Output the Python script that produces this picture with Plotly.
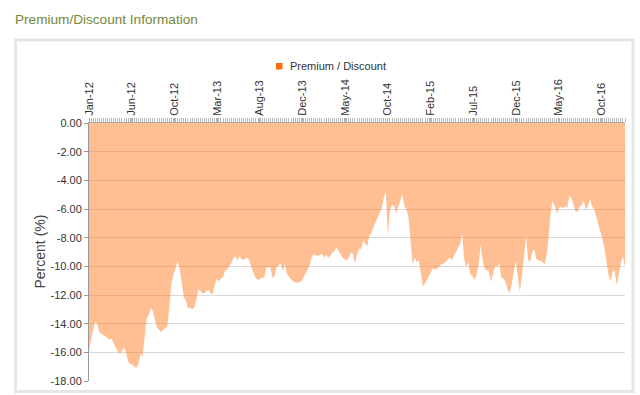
import pandas as pd
import plotly.graph_objects as go

# ---------------- data ----------------
start_date = "2012-01-06"
n_weeks = 261
premium_discount = [
    -15.9, -15.1, -14.4, -13.85, -14.0, -14.6, -14.7, -14.8, -14.95, -15.05,
    -15.1, -15.05, -15.45, -15.7, -15.9, -16.1, -15.9, -15.65, -16.0, -16.65,
    -16.8, -16.85, -17.0, -17.1, -16.8, -16.1, -16.3, -15.1, -13.6, -13.4,
    -12.9, -13.15, -13.75, -14.3, -14.4, -14.6, -14.4, -14.3, -14.2, -12.8,
    -11.15, -10.6, -10.1, -9.65, -10.2, -11.3, -12.15, -12.4, -12.9, -12.9,
    -13.0, -12.9, -12.4, -11.6, -11.7, -11.9, -11.9, -11.7, -11.65, -11.9,
    -11.95, -11.3, -10.85, -11.05, -10.85, -10.75,
    -10.3, -10.2, -10.0, -9.8, -9.45, -9.3, -9.6, -9.25, -9.5, -9.55,
    -9.45, -9.4, -9.7, -10.2, -10.5, -10.85, -10.95, -10.85, -10.8, -10.8,
    -10.1, -10.05, -10.1, -10.8, -10.7, -10.05, -9.9, -9.8, -10.3, -9.85,
    -10.5, -10.75, -10.9, -11.05, -11.1, -11.15, -11.1, -11.05, -10.8, -10.55,
    -10.3, -9.95, -9.35, -9.15, -9.25, -9.25, -9.25, -9.1, -9.4, -9.2,
    -9.4, -9.3, -9.05, -8.95, -8.65, -8.9, -9.2, -9.4, -9.5, -9.6,
    -9.4, -9.05, -9.1, -9.8, -9.2,
    -8.75, -8.8, -8.2, -8.4, -8.6, -7.8, -7.7, -7.25, -6.95, -6.6,
    -6.35, -5.95, -5.2, -4.75, -7.9, -6.1, -5.7, -5.8, -6.3, -5.85,
    -5.45, -4.95, -5.8, -6.05, -6.6, -8.0, -9.9, -9.4, -9.7, -9.6,
    -10.5, -11.4, -11.2, -10.9, -10.6, -10.3, -10.1, -10.25, -10.1, -10.0,
    -9.85, -9.8, -9.7, -9.55, -9.35, -9.6, -9.3, -8.95, -8.7, -8.45,
    -7.7, -9.5, -10.05, -9.7, -10.55, -10.7, -10.95, -10.55, -9.9, -8.5,
    -9.65, -10.2, -10.3, -10.35, -11.1,
    -10.4, -9.95, -10.05, -9.8, -10.8, -10.85, -11.1, -11.6, -11.85, -11.3,
    -10.4, -9.6, -10.7, -11.8, -10.7, -9.1, -7.9, -9.55, -9.7, -9.0,
    -8.8, -9.5, -9.55, -9.65, -9.7, -9.85, -9.2, -7.9, -6.2, -5.4,
    -5.95, -6.3, -5.95, -5.85, -5.95, -5.8, -5.9, -5.1, -5.2, -5.7,
    -6.2, -6.2, -5.85, -5.7, -5.4, -6.05, -5.85, -5.3, -5.8, -6.0,
    -6.5, -7.15, -7.55, -8.05, -8.7, -9.6, -10.6, -11.05, -10.35, -10.35,
    -11.3, -10.55, -9.75, -9.3, -10.0,
]
x_tick_labels = ["Jan-12", "Jun-12", "Oct-12", "Mar-13", "Aug-13", "Dec-13",
                 "May-14", "Oct-14", "Feb-15", "Jul-15", "Dec-15", "May-16", "Oct-16"]
y_tick_values = [0, -2, -4, -6, -8, -10, -12, -14, -16, -18]
y_tick_labels = ["0.00", "-2.00", "-4.00", "-6.00", "-8.00", "-10.00",
                 "-12.00", "-14.00", "-16.00", "-18.00"]
series_name = "Premium / Discount"

# ---------------- layout geometry ----------------
W, H = 640, 395
L, R, T, B = 89, 625, 123, 381
FONT = "Liberation Sans, Arial, sans-serif"


def px_x(px):
    return (px - L) / (R - L)


def px_y(py):
    return (B - py) / (B - T)


dates = pd.date_range(start_date, periods=n_weeks, freq="W-FRI")
label_step = pd.Timedelta(days=145)
tick_vals = [dates[0] + k * label_step for k in range(len(x_tick_labels))]

fig = go.Figure()
fig.add_trace(go.Scatter(
    x=dates, y=premium_discount, mode="lines", name=series_name,
    line=dict(width=0, color="rgba(255,128,40,0.5)"),
    fill="tozeroy", fillcolor="rgba(255,128,40,0.5)",
    showlegend=False, hoverinfo="x+y",
))

fig.update_layout(
    width=W, height=H,
    margin=dict(l=L, r=W - R, t=T, b=H - B, pad=0),
    paper_bgcolor="white", plot_bgcolor="white",
    font=dict(family=FONT, size=11, color="#333333"),
    showlegend=False,
)

fig.update_xaxes(
    type="date", side="top", range=[dates[0], dates[-1]],
    tickmode="array", tickvals=tick_vals, ticktext=x_tick_labels,
    tickangle=-90, tickfont=dict(size=11, color="#333333"),
    ticks="outside", ticklen=4, tickcolor="#aaaaaa",
    minor=dict(ticks="outside", ticklen=4, tickcolor="#b8b8b8",
               dtick=7 * 86400000, tick0=dates[0], showgrid=False),
    showgrid=False, showline=True, linecolor="#aaaaaa", linewidth=1,
    zeroline=False, automargin=False, fixedrange=True,
)
fig.update_yaxes(
    range=[-18, 0], tickmode="array", tickvals=y_tick_values, ticktext=y_tick_labels,
    tickfont=dict(size=11, color="#333333"),
    ticks="outside", ticklen=4, tickcolor="#999999",
    showgrid=True, gridcolor="#d9d9d9", gridwidth=1,
    showline=True, linecolor="#999999", linewidth=1,
    zeroline=False, automargin=False, fixedrange=True,
)

# container frame
fig.add_shape(type="rect", xref="paper", yref="paper",
              x0=px_x(15.5), x1=px_x(633), y0=px_y(391.5), y1=px_y(40),
              line=dict(color="#e6e6e6", width=3), layer="below")

# legend marker + text
fig.add_shape(type="rect", xref="paper", yref="paper",
              x0=px_x(276), x1=px_x(282.5), y0=px_y(69.5), y1=px_y(63),
              fillcolor="#ff6a10", line=dict(width=0))
fig.add_annotation(xref="paper", yref="paper", x=px_x(287.5), y=px_y(65.5),
                   xanchor="left", yanchor="middle", showarrow=False,
                   text=series_name, font=dict(family=FONT, size=11, color="#333333"))

# title
fig.add_annotation(xref="paper", yref="paper", x=px_x(13), y=px_y(20),
                   xanchor="left", yanchor="middle", showarrow=False,
                   text="Premium/Discount Information",
                   font=dict(family=FONT, size=13.6, color="#76863a"))

# y axis title
fig.add_annotation(xref="paper", yref="paper", x=px_x(39.5), y=0.5,
                   xanchor="center", yanchor="middle", showarrow=False,
                   textangle=-90, text="Percent (%)",
                   font=dict(family=FONT, size=14, color="#444444"))

fig.write_html(
    "out.html",
    config={"displayModeBar": False},
    post_script="document.body.style.margin='0';document.body.style.overflow='hidden';",
)
